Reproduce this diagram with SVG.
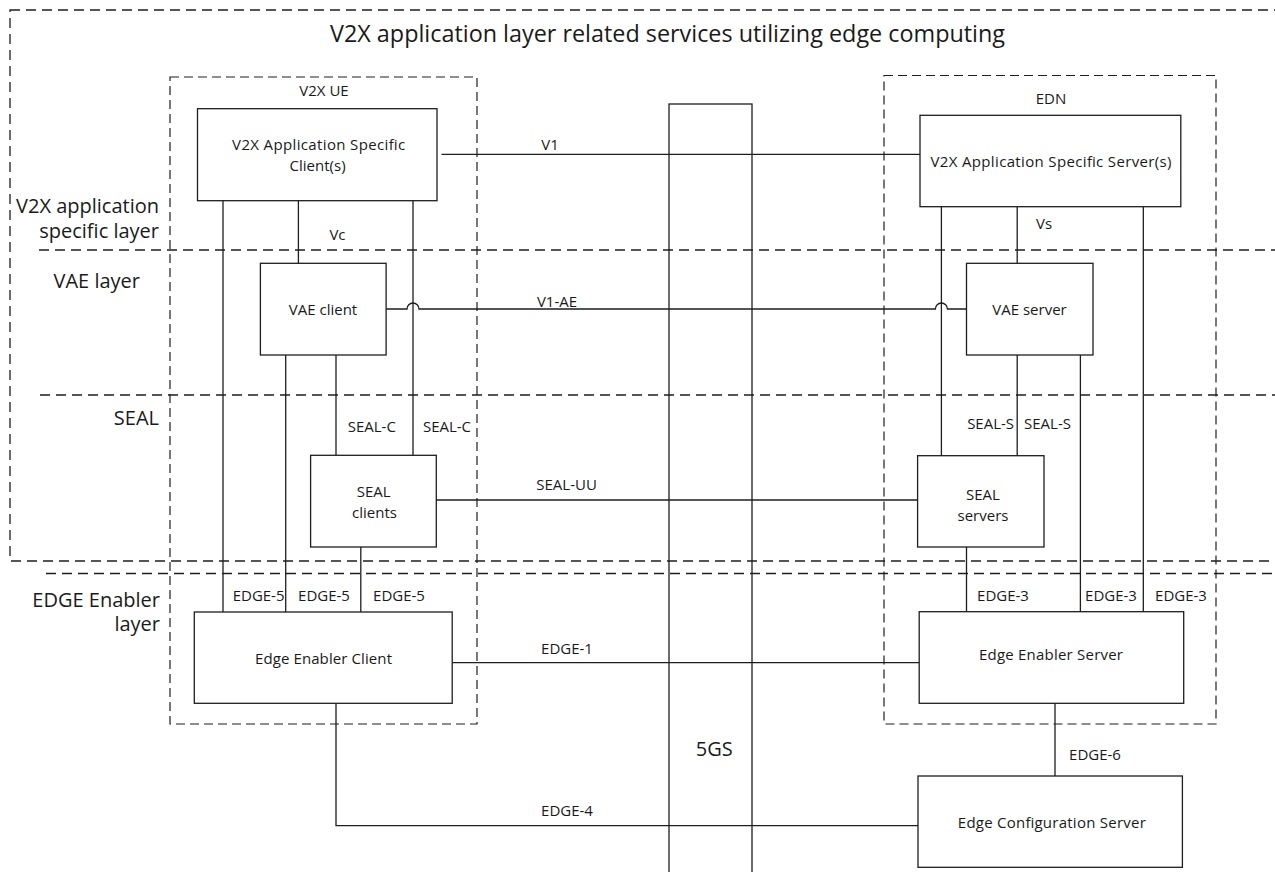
<svg xmlns="http://www.w3.org/2000/svg" width="1275" height="872" viewBox="0 0 1275 872">
<style>
  .bg{fill:#ffffff}
  .box{fill:#ffffff;stroke:#1e1e1e;stroke-width:1.3}
  .frame{fill:none;stroke:#1e1e1e;stroke-width:1.3}
  .dash{fill:none;stroke:#1e1e1e;stroke-width:1.3;stroke-dasharray:10 6}
  .dash2{fill:none;stroke:#1e1e1e;stroke-width:1.2;stroke-dasharray:9 5}
  .ln{fill:none;stroke:#1e1e1e;stroke-width:1.3}
  text{font-family:"Open Sans","Liberation Sans",sans-serif;fill:#1a1a1a}
  .t{font-size:15px;text-anchor:middle}
  .lbl{font-size:15px;text-anchor:middle}
  .layer{font-size:20px;text-anchor:end}
  .title{font-size:24px;text-anchor:middle}
  .big{font-size:20px;text-anchor:middle}
</style>
<rect class="bg" x="0" y="0" width="1275" height="872"/>

<g id="frames">
  <rect class="dash" x="10" y="10" width="1290" height="551"/>
  <line class="dash" x1="39" y1="250" x2="1275" y2="250"/>
  <line class="dash" x1="40" y1="395" x2="1275" y2="395"/>
  <line class="dash" x1="46" y1="573.5" x2="1275" y2="573.5"/>
  <rect class="dash2" x="170" y="77" width="307" height="647"/>
  <rect class="dash2" x="884" y="75.5" width="332" height="648.5"/>
  <text class="title" x="667.5" y="42" textLength="675" lengthAdjust="spacingAndGlyphs">V2X application layer related services utilizing edge computing</text>
  <text class="t" x="324" y="96">V2X UE</text>
  <text class="t" x="1051" y="104">EDN</text>
  <text class="layer" x="159" y="213">V2X application</text>
  <text class="layer" x="159" y="238">specific layer</text>
  <text class="layer" x="140" y="288">VAE layer</text>
  <text class="layer" x="159" y="425">SEAL</text>
  <text class="layer" x="160" y="606.5">EDGE Enabler</text>
  <text class="layer" x="160" y="631">layer</text>
</g>

<g id="fivegs">
  <rect class="frame" x="669" y="104" width="83" height="790"/>
  <text class="big" x="714.3" y="756">5GS</text>
</g>

<g id="connectors">
  <line class="ln" x1="441.5" y1="154.3" x2="920" y2="154.3"/>
  <line class="ln" x1="223" y1="200.7" x2="223" y2="612"/>
  <line class="ln" x1="298.4" y1="200.7" x2="298.4" y2="263.3"/>
  <line class="ln" x1="413" y1="200.7" x2="413" y2="455.3"/>
  <line class="ln" x1="285.7" y1="355" x2="285.7" y2="612"/>
  <line class="ln" x1="336" y1="355" x2="336" y2="455.3"/>
  <line class="ln" x1="360.8" y1="547" x2="360.8" y2="612"/>
  <path class="ln" d="M386,309 H407 A6,6 0 0 1 419,309 H935.4 A6,6 0 0 1 947.4,309 H966.5"/>
  <line class="ln" x1="436.3" y1="500" x2="917.6" y2="500"/>
  <line class="ln" x1="941.4" y1="206.7" x2="941.4" y2="455.7"/>
  <line class="ln" x1="1017.2" y1="206.7" x2="1017.2" y2="263.3"/>
  <line class="ln" x1="1143.3" y1="206.7" x2="1143.3" y2="611.7"/>
  <line class="ln" x1="1017.2" y1="355" x2="1017.2" y2="455.7"/>
  <line class="ln" x1="1080.4" y1="355" x2="1080.4" y2="611.7"/>
  <line class="ln" x1="966.5" y1="547" x2="966.5" y2="611.7"/>
  <line class="ln" x1="452.2" y1="662.7" x2="919.2" y2="662.7"/>
  <path class="ln" d="M336,703.3 V825.7 H919.6"/>
  <line class="ln" x1="1055" y1="703.3" x2="1055" y2="776"/>
  <text class="lbl" x="550" y="150">V1</text>
  <text class="lbl" x="337.5" y="240">Vc</text>
  <text class="lbl" x="1044" y="229">Vs</text>
  <text class="lbl" x="557" y="306.5">V1-AE</text>
  <text class="lbl" x="371.8" y="432">SEAL-C</text>
  <text class="lbl" x="447" y="432">SEAL-C</text>
  <text class="lbl" x="990.6" y="428.5">SEAL-S</text>
  <text class="lbl" x="1047.5" y="428.5">SEAL-S</text>
  <text class="lbl" x="566.6" y="490">SEAL-UU</text>
  <text class="lbl" x="258.6" y="601">EDGE-5</text>
  <text class="lbl" x="324" y="601">EDGE-5</text>
  <text class="lbl" x="399" y="601">EDGE-5</text>
  <text class="lbl" x="1003" y="601">EDGE-3</text>
  <text class="lbl" x="1111" y="601">EDGE-3</text>
  <text class="lbl" x="1181" y="601">EDGE-3</text>
  <text class="lbl" x="567" y="653.5">EDGE-1</text>
  <text class="lbl" x="567" y="816">EDGE-4</text>
  <text class="lbl" x="1095" y="759.5">EDGE-6</text>
</g>

<g id="v2x-client">
  <rect class="box" x="197.5" y="108.7" width="239.5" height="92"/>
  <text class="t" x="318.6" y="150" textLength="173" lengthAdjust="spacing">V2X Application Specific</text>
  <text class="t" x="317.6" y="171">Client(s)</text>
</g>
<g id="v2x-server">
  <rect class="box" x="920" y="115.3" width="260.8" height="91.4"/>
  <text class="t" x="1051" y="167" textLength="241" lengthAdjust="spacing">V2X Application Specific Server(s)</text>
</g>
<g id="vae-client">
  <rect class="box" x="260.4" y="263.3" width="125.7" height="91.7"/>
  <text class="t" x="323" y="315">VAE client</text>
</g>
<g id="vae-server">
  <rect class="box" x="966.5" y="263.3" width="126.5" height="91.7"/>
  <text class="t" x="1029.5" y="315">VAE server</text>
</g>
<g id="seal-clients">
  <rect class="box" x="310.6" y="455.3" width="125.7" height="91.7"/>
  <text class="t" x="373.7" y="497">SEAL</text>
  <text class="t" x="374.5" y="518">clients</text>
</g>
<g id="seal-servers">
  <rect class="box" x="917.6" y="455.7" width="126.4" height="91.3"/>
  <text class="t" x="983" y="500">SEAL</text>
  <text class="t" x="983" y="521">servers</text>
</g>
<g id="eec">
  <rect class="box" x="194.3" y="612" width="257.9" height="91.3"/>
  <text class="t" x="323.5" y="664" textLength="137" lengthAdjust="spacing">Edge Enabler Client</text>
</g>
<g id="ees">
  <rect class="box" x="919.2" y="611.7" width="264.5" height="91.6"/>
  <text class="t" x="1051" y="660" textLength="144" lengthAdjust="spacing">Edge Enabler Server</text>
</g>
<g id="ecs">
  <rect class="box" x="918" y="776" width="264.4" height="91.3"/>
  <text class="t" x="1051.8" y="828" textLength="188" lengthAdjust="spacing">Edge Configuration Server</text>
</g>
</svg>
